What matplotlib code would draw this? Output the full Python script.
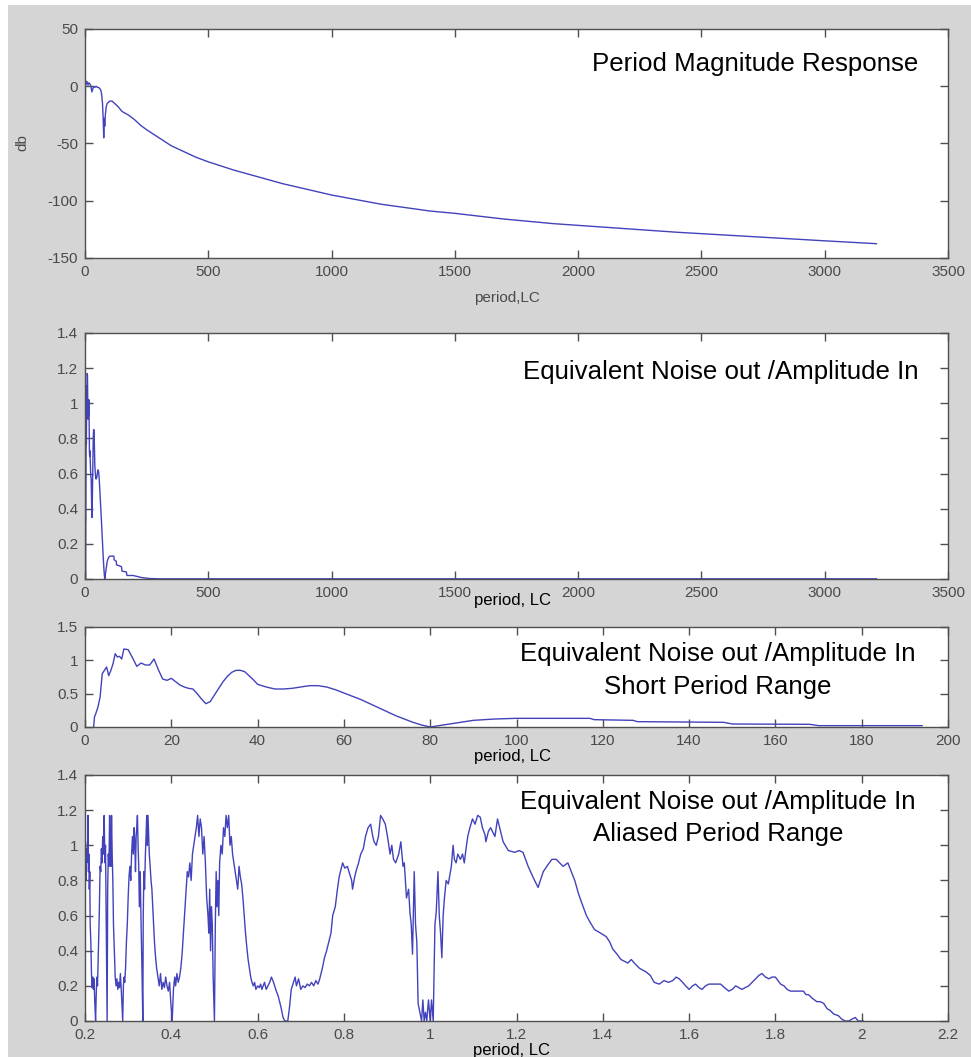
import matplotlib
matplotlib.use("Agg")
import matplotlib.pyplot as plt
from matplotlib.patches import Rectangle

plt.rcParams['font.family'] = ['Liberation Sans', 'DejaVu Sans']
plt.rcParams['axes.unicode_minus'] = False

# ---------------- data ----------------
mag_period = [0, 2, 5, 8, 12, 16, 20, 24, 28, 32, 36, 40, 45, 50, 55, 60, 65, 68, 71, 74,
              76, 78, 80, 83, 86, 90, 95, 100, 110, 120, 135, 150, 175, 200, 225, 250,
              300, 350, 400, 450, 500, 600, 700, 800, 900, 1000, 1100, 1200, 1300, 1400,
              1500, 1600, 1700, 1800, 1900, 2000, 2200, 2400, 2600, 2800, 3000, 3210]
mag_db = [-80, 5, 2, 4, 1, 3, 2, 0, -5, -2, 0, -1, 0, -1, -1, -2, -4, -8, -15, -30,
          -45, -28, -35, -24, -18, -15, -14, -13, -13, -15, -18, -22, -25, -29, -34, -38,
          -45, -52, -57, -62, -66, -73, -79, -85, -90, -95, -99, -103, -106, -109,
          -111, -113.5, -116, -118, -120, -121.5, -124.5, -127.5, -130, -132.5, -135, -137.5]

short_period = [2.0, 2.2, 2.5, 3.0, 3.5, 4.0, 4.5, 5.0, 5.5, 6.0, 6.5, 7.0, 7.5, 8.0, 8.5,
                9.0, 10, 11, 12, 13, 14, 15, 16, 17, 18, 19, 20, 21, 22, 23, 24, 25, 26,
                27, 28, 29, 30, 31, 32, 33, 34, 35, 36, 37, 38, 39, 40, 42, 44, 46, 48,
                50, 52, 54, 56, 58, 60, 62, 64, 66, 68, 70, 72, 74, 76, 78, 80, 82, 84,
                86, 88, 90, 95, 100, 110, 117, 118, 127, 128, 139, 148, 150, 168, 170, 194]
short_noise = [0.0, 0.15, 0.2, 0.3, 0.45, 0.8, 0.85, 0.9, 0.77, 0.85, 0.95, 1.1, 1.05, 1.06,
               1.02, 1.17, 1.16, 1.04, 0.91, 0.96, 0.93, 0.93, 1.02, 0.86, 0.72, 0.7, 0.73,
               0.68, 0.63, 0.6, 0.58, 0.57, 0.5, 0.42, 0.35, 0.38, 0.48, 0.58, 0.68, 0.76,
               0.82, 0.85, 0.85, 0.83, 0.77, 0.71, 0.64, 0.6, 0.57, 0.57, 0.58, 0.6, 0.62,
               0.62, 0.6, 0.56, 0.51, 0.46, 0.41, 0.35, 0.29, 0.23, 0.17, 0.12, 0.07, 0.03,
               0.0, 0.02, 0.04, 0.06, 0.08, 0.1, 0.12, 0.13, 0.13, 0.13, 0.11, 0.1, 0.08,
               0.075, 0.07, 0.045, 0.04, 0.02, 0.02]

tail_period = [210, 230, 260, 300, 3210]
tail_noise = [0.015, 0.008, 0.003, 0.001, 0.001]

alias_period = [0.2000, 0.2010, 0.2020, 0.2030, 0.2040, 0.2060, 0.2070, 0.2080, 0.2090, 0.2100,
                0.2110, 0.2120, 0.2135, 0.2150, 0.2165, 0.2180, 0.2195, 0.2210, 0.2225, 0.2245,
                0.2260, 0.2275, 0.2290, 0.2310, 0.2330, 0.2350, 0.2365, 0.2380, 0.2395, 0.2410,
                0.2430, 0.2445, 0.2460, 0.2475, 0.2490, 0.2513, 0.2525, 0.2540, 0.2555, 0.2570,
                0.2585, 0.2600, 0.2615, 0.2630, 0.2645, 0.2660, 0.2680, 0.2700, 0.2720, 0.2740,
                0.2760, 0.2780, 0.2800, 0.2820, 0.2840, 0.2855, 0.2874, 0.2890, 0.2905, 0.2920,
                0.2940, 0.2960, 0.2980, 0.3000, 0.3020, 0.3040, 0.3060, 0.3080, 0.3100, 0.3120,
                0.3140, 0.3155, 0.3170, 0.3185, 0.3200, 0.3215, 0.3230, 0.3245, 0.3260, 0.3280,
                0.3300, 0.3320, 0.3340, 0.3350, 0.3365, 0.3380, 0.3400, 0.3415, 0.3430, 0.3445,
                0.3460, 0.3475, 0.3490, 0.3510, 0.3530, 0.3550, 0.3570, 0.3590, 0.3610, 0.3630,
                0.3660, 0.3690, 0.3720, 0.3750, 0.3780, 0.3810, 0.3840, 0.3870, 0.3900, 0.3930,
                0.3960, 0.3990, 0.4020, 0.4050, 0.4080, 0.4100, 0.4130, 0.4160, 0.4190, 0.4220,
                0.4250, 0.4280, 0.4310, 0.4340, 0.4370, 0.4400, 0.4430, 0.4460, 0.4490, 0.4520,
                0.4550, 0.4580, 0.4610, 0.4640, 0.4670, 0.4700, 0.4730, 0.4760, 0.4790, 0.4820,
                0.4850, 0.4870, 0.4890, 0.4910, 0.4930, 0.4950, 0.4970, 0.5000, 0.5020, 0.5040,
                0.5060, 0.5080, 0.5100, 0.5120, 0.5150, 0.5180, 0.5210, 0.5240, 0.5270, 0.5300,
                0.5330, 0.5360, 0.5390, 0.5420, 0.5450, 0.5480, 0.5510, 0.5540, 0.5570, 0.5600,
                0.5630, 0.5660, 0.5690, 0.5720, 0.5750, 0.5780, 0.5810, 0.5840, 0.5870, 0.5900,
                0.5930, 0.5960, 0.6000, 0.6040, 0.6070, 0.6100, 0.6130, 0.6160, 0.6200, 0.6240,
                0.6280, 0.6320, 0.6370, 0.6420, 0.6480, 0.6540, 0.6590, 0.6630, 0.6660, 0.6700,
                0.6740, 0.6780, 0.6830, 0.6870, 0.6900, 0.6950, 0.7000, 0.7050, 0.7100, 0.7150,
                0.7200, 0.7250, 0.7300, 0.7350, 0.7400, 0.7440, 0.7500, 0.7550, 0.7600, 0.7650,
                0.7700, 0.7740, 0.7800, 0.7850, 0.7890, 0.7930, 0.7970, 0.8020, 0.8080, 0.8130,
                0.8180, 0.8200, 0.8250, 0.8290, 0.8340, 0.8390, 0.8450, 0.8500, 0.8560, 0.8620,
                0.8670, 0.8700, 0.8750, 0.8800, 0.8850, 0.8900, 0.8960, 0.9010, 0.9070, 0.9110,
                0.9150, 0.9200, 0.9270, 0.9320, 0.9370, 0.9400, 0.9450, 0.9500, 0.9530, 0.9560,
                0.9590, 0.9630, 0.9660, 0.9690, 0.9720, 0.9760, 0.9800, 0.9830, 0.9860, 0.9890,
                0.9920, 0.9960, 1.0000, 1.0030, 1.0070, 1.0110, 1.0140, 1.0180, 1.0210, 1.0240,
                1.0270, 1.0300, 1.0330, 1.0370, 1.0420, 1.0490, 1.0530, 1.0560, 1.0600, 1.0640,
                1.0700, 1.0750, 1.0790, 1.0830, 1.0870, 1.0920, 1.0980, 1.1040, 1.1100, 1.1160,
                1.1210, 1.1270, 1.1290, 1.1350, 1.1400, 1.1500, 1.1560, 1.1690, 1.1810, 1.1960,
                1.2060, 1.2150, 1.2270, 1.2380, 1.2500, 1.2620, 1.2730, 1.2820, 1.2920, 1.3000,
                1.3080, 1.3190, 1.3270, 1.3350, 1.3430, 1.3500, 1.3620, 1.3710, 1.3810, 1.3950,
                1.4080, 1.4160, 1.4230, 1.4330, 1.4420, 1.4500, 1.4580, 1.4660, 1.4730, 1.4850,
                1.5000, 1.5100, 1.5190, 1.5310, 1.5420, 1.5520, 1.5620, 1.5700, 1.5770, 1.5850,
                1.5920, 1.6000, 1.6080, 1.6150, 1.6230, 1.6300, 1.6380, 1.6460, 1.6540, 1.6630,
                1.6730, 1.6820, 1.6920, 1.7000, 1.7080, 1.7150, 1.7230, 1.7300, 1.7380, 1.7460,
                1.7540, 1.7620, 1.7690, 1.7770, 1.7850, 1.7920, 1.8000, 1.8060, 1.8120, 1.8200,
                1.8270, 1.8350, 1.8460, 1.8550, 1.8650, 1.8710, 1.8770, 1.8850, 1.8960, 1.9040,
                1.9120, 1.9200, 1.9270, 1.9350, 1.9460, 1.9540, 1.9620, 1.9700, 1.9770, 1.9850,
                1.9920, 2.0040]
alias_noise = [0.36, 1.02, 0.80, 0.98, 0.90, 1.00, 1.17, 0.85, 0.95, 0.75,
               0.85, 0.55, 0.45, 0.27, 0.19, 0.25, 0.18, 0.24, 0.12, 0.00,
               0.15, 0.25, 0.20, 0.40, 0.60, 0.88, 0.85, 0.98, 0.90, 1.05,
               0.95, 1.17, 0.90, 1.00, 0.60, 0.00, 0.75, 0.95, 0.88, 1.17,
               1.00, 0.88, 1.17, 0.95, 0.80, 0.55, 0.40, 0.25, 0.20, 0.24,
               0.18, 0.22, 0.19, 0.27, 0.18, 0.10, 0.00, 0.20, 0.25, 0.22,
               0.30, 0.45, 0.55, 0.70, 0.82, 0.88, 0.80, 0.95, 1.05, 0.95,
               1.10, 1.00, 0.85, 1.05, 1.10, 1.17, 1.00, 0.88, 0.65, 0.85,
               0.55, 0.30, 0.00, 0.60, 0.85, 0.75, 0.95, 1.05, 1.17, 1.00,
               1.17, 1.05, 0.95, 0.88, 0.80, 0.75, 0.65, 0.55, 0.45, 0.38,
               0.30, 0.25, 0.20, 0.27, 0.18, 0.22, 0.19, 0.25, 0.20, 0.17,
               0.22, 0.10, 0.00, 0.18, 0.25, 0.20, 0.27, 0.22, 0.25, 0.30,
               0.38, 0.50, 0.62, 0.75, 0.85, 0.82, 0.90, 0.80, 0.95, 1.00,
               1.05, 1.10, 1.17, 1.05, 1.15, 1.10, 0.95, 1.05, 0.90, 0.70,
               0.60, 0.50, 0.75, 0.40, 0.65, 0.55, 0.25, 0.00, 0.55, 0.85,
               0.65, 0.80, 0.60, 0.90, 1.00, 0.95, 1.10, 1.05, 1.17, 1.10,
               1.17, 1.00, 1.05, 0.95, 0.90, 0.85, 0.80, 0.75, 0.88, 0.82,
               0.78, 0.70, 0.60, 0.50, 0.42, 0.35, 0.30, 0.25, 0.22, 0.20,
               0.22, 0.18, 0.20, 0.19, 0.21, 0.18, 0.20, 0.22, 0.18, 0.20,
               0.22, 0.25, 0.22, 0.18, 0.14, 0.08, 0.02, 0.00, 0.00, 0.00,
               0.08, 0.18, 0.22, 0.25, 0.20, 0.24, 0.18, 0.20, 0.19, 0.21,
               0.20, 0.22, 0.20, 0.23, 0.21, 0.24, 0.30, 0.36, 0.40, 0.45,
               0.50, 0.60, 0.65, 0.75, 0.82, 0.86, 0.90, 0.87, 0.88, 0.84,
               0.80, 0.75, 0.82, 0.86, 0.90, 0.95, 0.98, 1.05, 1.10, 1.12,
               1.05, 1.02, 1.00, 1.05, 1.17, 1.15, 1.12, 1.05, 0.95, 1.00,
               0.92, 0.90, 0.95, 1.02, 0.88, 0.90, 0.70, 0.75, 0.62, 0.55,
               0.38, 0.85, 0.55, 0.45, 0.10, 0.05, 0.00, 0.12, 0.00, 0.05,
               0.00, 0.12, 0.00, 0.12, 0.00, 0.55, 0.62, 0.85, 0.60, 0.50,
               0.36, 0.60, 0.70, 0.80, 0.78, 0.88, 1.00, 0.92, 0.90, 0.95,
               0.92, 0.95, 0.90, 0.98, 1.05, 1.10, 1.15, 1.12, 1.17, 1.16,
               1.10, 1.06, 1.02, 1.08, 1.10, 1.05, 1.15, 1.02, 0.97, 0.96,
               0.97, 0.96, 0.88, 0.82, 0.76, 0.85, 0.89, 0.92, 0.92, 0.90,
               0.88, 0.90, 0.85, 0.80, 0.73, 0.68, 0.60, 0.56, 0.52, 0.50,
               0.48, 0.45, 0.41, 0.38, 0.35, 0.34, 0.33, 0.35, 0.33, 0.30,
               0.28, 0.26, 0.22, 0.21, 0.23, 0.22, 0.23, 0.25, 0.24, 0.22,
               0.20, 0.18, 0.20, 0.21, 0.19, 0.18, 0.20, 0.21, 0.21, 0.21,
               0.21, 0.19, 0.17, 0.18, 0.20, 0.19, 0.18, 0.19, 0.20, 0.22,
               0.24, 0.26, 0.27, 0.25, 0.24, 0.25, 0.25, 0.23, 0.21, 0.20,
               0.18, 0.17, 0.17, 0.17, 0.17, 0.15, 0.15, 0.13, 0.11, 0.11,
               0.10, 0.07, 0.06, 0.04, 0.03, 0.01, 0.00, 0.00, 0.01, 0.02,
               0.00, 0.00]

# full-range series for the second panel
full_period = alias_period + short_period + tail_period
full_noise = alias_noise + short_noise + tail_noise

# ---------------- figure ----------------
W, H = 971, 1057
fig = plt.figure(figsize=(W / 100, H / 100), dpi=100, facecolor='white')
fig.patches.append(Rectangle((8 / W, 0), 1 - 8 / W, 1 - 5 / H, transform=fig.transFigure,
                             facecolor='#d5d5d5', edgecolor='none', zorder=-10))

LINE = '#4242bc'
TICKC = '#4a4a4a'
TFS = 18.6


def add_axes(top, bottom, left=85, right=948):
    ax = fig.add_axes([left / W, 1 - bottom / H, (right - left) / W, (bottom - top) / H])
    ax.set_facecolor('white')
    for s in ax.spines.values():
        s.set_color('#505050')
        s.set_linewidth(1.0)
    ax.tick_params(direction='in', top=True, right=True, length=6, width=1,
                   color='#505050', labelsize=11, labelcolor=TICKC, pad=5)
    return ax


def ftext(x, y, s, **kw):
    fig.text(x / W, 1 - y / H, s, **kw)


# panel 1
ax1 = add_axes(29, 258)
ax1.plot(mag_period, mag_db, color=LINE, lw=1.0)
ax1.set_xlim(0, 3500)
ax1.set_ylim(-150, 50)
ax1.set_xticks(range(0, 3501, 500))
ax1.set_yticks(range(-150, 51, 50))
ftext(918, 64, 'Period Magnitude Response', ha='right', va='center', fontsize=TFS, color='black')
ftext(507, 298, 'period,LC', ha='center', va='center', fontsize=11, color=TICKC)
ftext(22, 143, 'db', ha='center', va='center', rotation=90, fontsize=11, color=TICKC)

# panel 2
ax2 = add_axes(333, 579)
ax2.plot(full_period, full_noise, color=LINE, lw=1.0)
ax2.set_xlim(0, 3500)
ax2.set_ylim(0, 1.4)
ax2.set_xticks(range(0, 3501, 500))
ax2.set_yticks([0, 0.2, 0.4, 0.6, 0.8, 1.0, 1.2, 1.4])
ax2.set_yticklabels(['0', '0.2', '0.4', '0.6', '0.8', '1', '1.2', '1.4'])
ftext(918, 372, 'Equivalent Noise out /Amplitude In', ha='right', va='center', fontsize=TFS,
      color='black')
ftext(512, 600, 'period, LC', ha='center', va='center', fontsize=12, color='black')

# panel 3
ax3 = add_axes(627, 727)
ax3.plot(short_period, short_noise, color=LINE, lw=1.0)
ax3.set_xlim(0, 200)
ax3.set_ylim(0, 1.5)
ax3.set_xticks(range(0, 201, 20))
ax3.set_yticks([0, 0.5, 1.0, 1.5])
ax3.set_yticklabels(['0', '0.5', '1', '1.5'])
ftext(718, 654, 'Equivalent Noise out /Amplitude In', ha='center', va='center', fontsize=TFS,
      color='black')
ftext(718, 687, 'Short Period Range', ha='center', va='center', fontsize=TFS, color='black')
ftext(512, 757, 'period, LC', ha='center', va='center', fontsize=12, color='black')

# panel 4
ax4 = add_axes(775, 1021)
ax4.plot(alias_period, alias_noise, color=LINE, lw=1.0)
ax4.set_xlim(0.2, 2.2)
ax4.set_ylim(0, 1.4)
xt = [0.2, 0.4, 0.6, 0.8, 1.0, 1.2, 1.4, 1.6, 1.8, 2.0, 2.2]
ax4.set_xticks(xt)
ax4.set_xticklabels(['0.2', '0.4', '0.6', '0.8', '1', '1.2', '1.4', '1.6', '1.8', '2', '2.2'])
ax4.set_yticks([0, 0.2, 0.4, 0.6, 0.8, 1.0, 1.2, 1.4])
ax4.set_yticklabels(['0', '0.2', '0.4', '0.6', '0.8', '1', '1.2', '1.4'])
ftext(718, 802, 'Equivalent Noise out /Amplitude In', ha='center', va='center', fontsize=TFS,
      color='black')
ftext(718, 834, 'Aliased Period Range', ha='center', va='center', fontsize=TFS, color='black')
ftext(511, 1051, 'period, LC', ha='center', va='center', fontsize=12, color='black')

fig.savefig('out.png', dpi=100, facecolor=fig.get_facecolor())
